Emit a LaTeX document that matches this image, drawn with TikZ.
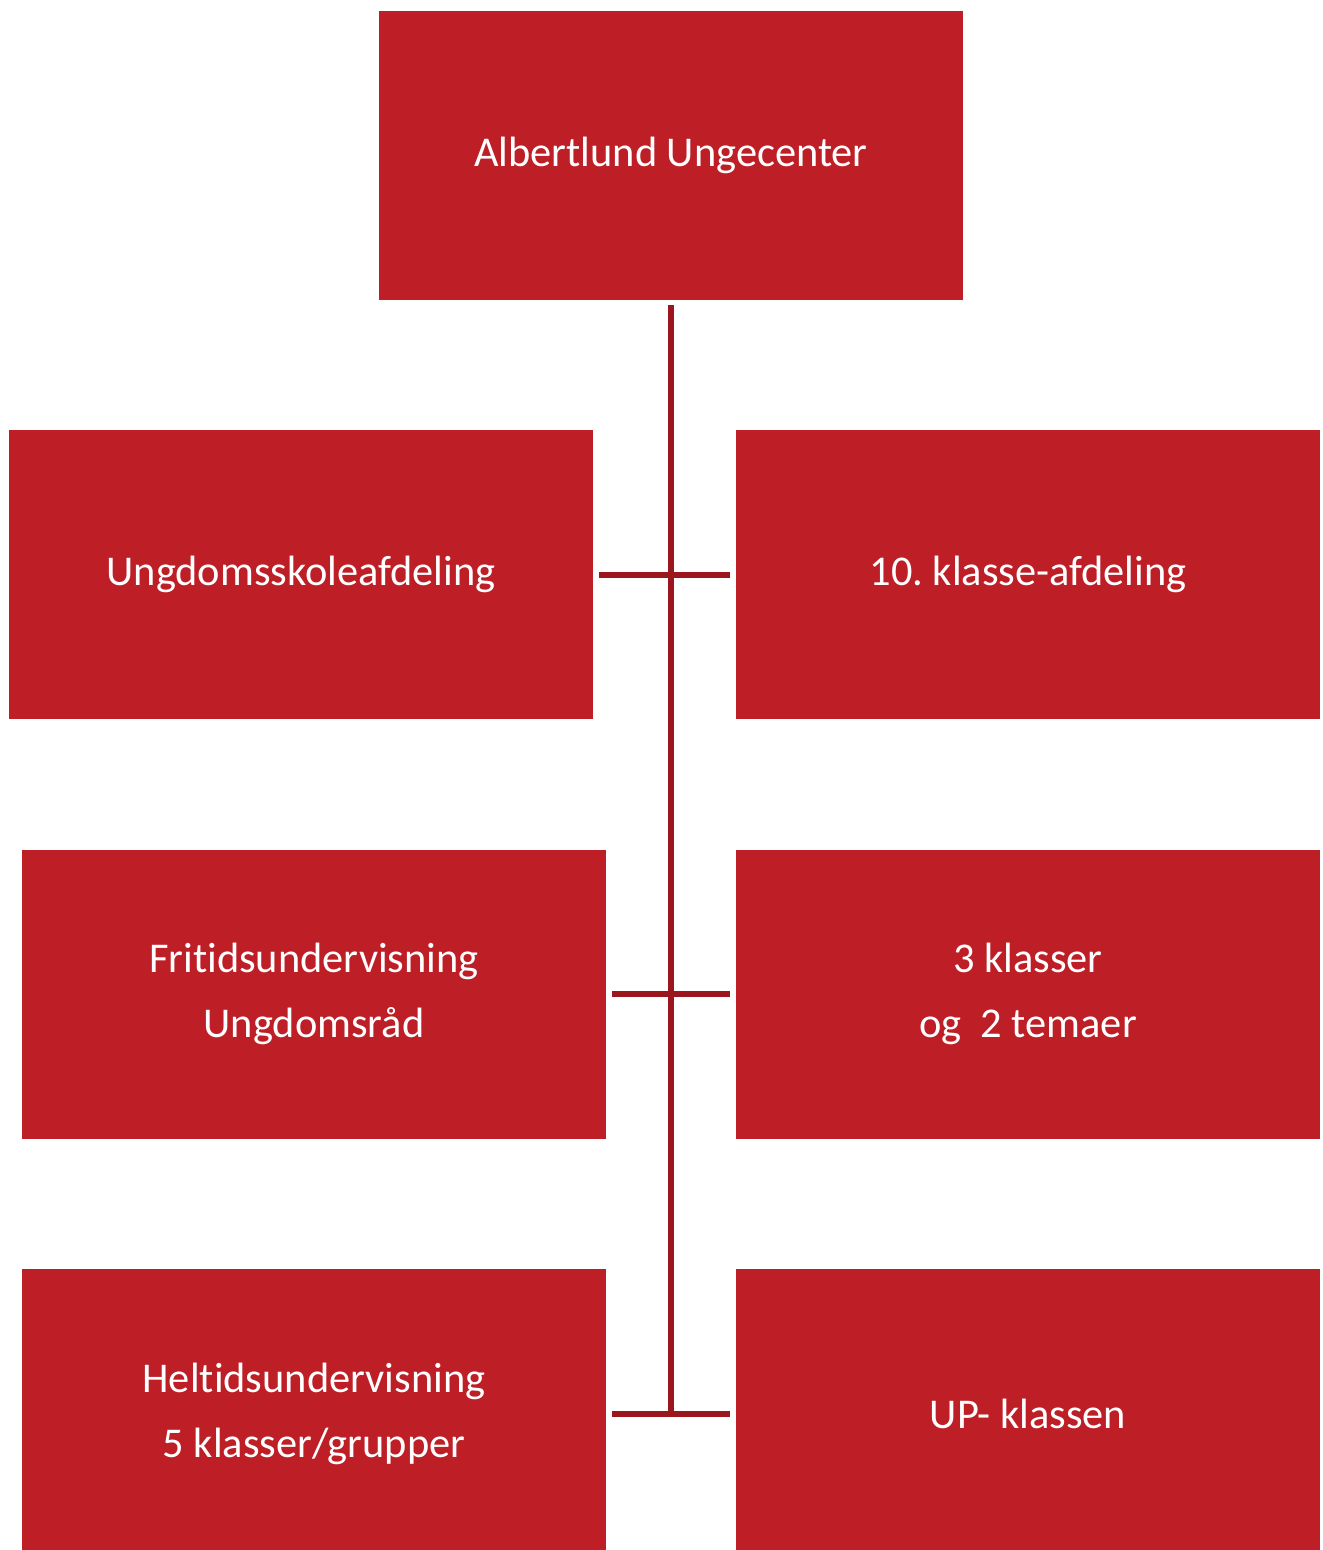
\documentclass[tikz,border=0pt]{standalone}
\usepackage{fontspec}
\setmainfont{Carlito}[Ligatures=NoCommon]
\frenchspacing
\usepackage{tikz}
\usetikzlibrary{positioning}
\definecolor{boxred}{RGB}{190,30,38}
\definecolor{linered}{RGB}{155,22,29}
\tikzset{
	unit/.append style={
		fill=boxred,
		text=white,
		align = center,
		minimum width=292pt,
		minimum height=144.5pt,
		inner sep=0pt,
		outer sep=0pt,
		font={\fontsize{21.2}{32.5}\selectfont}
	},
	link/.append style={
		draw=linered,
		line width=3pt,
	}
}
\begin{document}
\begin{tikzpicture}[x=0.5pt, y=-0.5pt]
	\clip (0,0) rectangle (1322,1550);
	
	\node (top)[unit] at (671,155.5) {Albertlund Ungecenter};
	
	\node(udsk)[unit, below = 65pt of top, xshift=-185pt]{Ungdomsskoleafdeling};
	\node(klasse10)[unit, below = 65pt of top, xshift=178.5pt]{10. klasse-afdeling};
	
	\node(fritid)[unit, below = 65.25pt of udsk, xshift=6.5pt]{Fritidsundervisning\\Ungdomsråd};
	\node(temaer)[unit, below = 65.25pt of klasse10]{3 klasser\\og\ \ 2 temaer};
	
	\node(heltid)[unit, below = 65.25pt of fritid]{Heltidsundervisning\\5 klasser/grupper};
	\node(upklasse)[unit, below = 65.25pt of temaer]{UP- klassen};
	
	%\draw[link](top) to (heltid);
	\draw[link]([yshift=-2.5pt]top.south) to (top.south |- heltid.east);
	\draw[link]([xshift=3pt]udsk.east) to ([xshift=-3pt]klasse10.west);
	\draw[link]([xshift=3pt]fritid.east) to ([xshift=-3pt]temaer.west);
	\draw[link]([xshift=3pt]heltid.east) to ([xshift=-3pt]upklasse.west);
	
\end{tikzpicture}
\end{document}
